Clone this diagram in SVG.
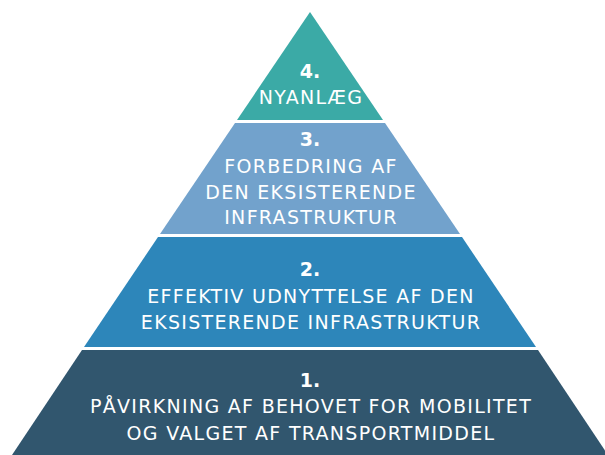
<svg xmlns="http://www.w3.org/2000/svg" width="605" height="455" viewBox="0 0 605 455">
<style>
text{font-family:"DejaVu Sans",Verdana,sans-serif;font-size:19px;letter-spacing:1.3px;fill:#ffffff;text-anchor:middle}
.n{font-weight:bold;letter-spacing:0}
</style>
<rect width="605" height="455" fill="#ffffff"/>
<g id="level4">
<polygon points="310,12 383,120 237,120" fill="#3BAAA6"/>
<text class="n" x="310" y="78">4.</text>
<text x="311" y="104">NYANLÆG</text>
</g>
<g id="level3">
<polygon points="235,123 385,123 460,234 160,234" fill="#72A2CC"/>
<text class="n" x="310" y="146">3.</text>
<text x="311" y="173">FORBEDRING AF</text>
<text x="311" y="199">DEN EKSISTERENDE</text>
<text x="311" y="224">INFRASTRUKTUR</text>
</g>
<g id="level2">
<polygon points="158,237 462,237 536,347 84,347" fill="#2D86BA"/>
<text class="n" x="310" y="276">2.</text>
<text x="311" y="303">EFFEKTIV UDNYTTELSE AF DEN</text>
<text x="311" y="329">EKSISTERENDE INFRASTRUKTUR</text>
</g>
<g id="level1">
<polygon points="82,350 538,350 608,455 12,455" fill="#31566E"/>
<text class="n" x="310" y="387">1.</text>
<text x="311" y="413">PÅVIRKNING AF BEHOVET FOR MOBILITET</text>
<text x="311" y="440">OG VALGET AF TRANSPORTMIDDEL</text>
</g>
<g id="connectors"></g>
</svg>
